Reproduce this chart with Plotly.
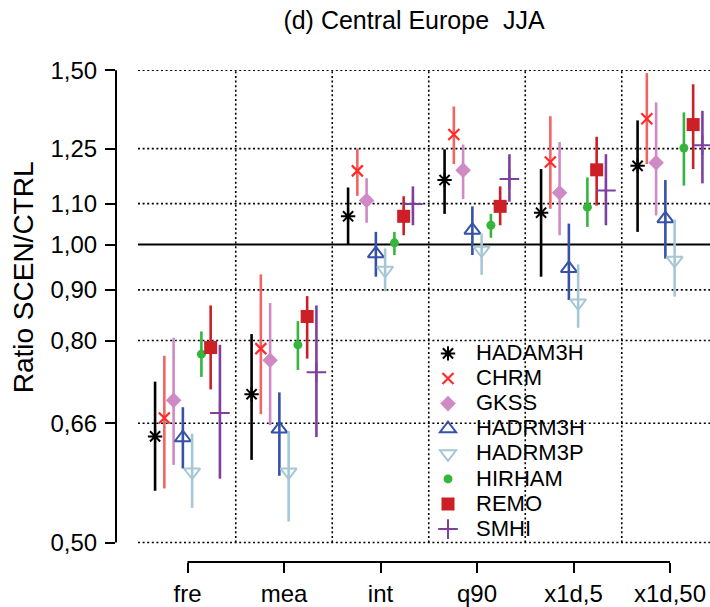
import numpy as np
import plotly.graph_objects as go

categories = ["fre", "mea", "int", "q90", "x1d,5", "x1d,50"]
models = ["HADAM3H", "CHRM", "GKSS", "HADRM3H", "HADRM3P", "HIRHAM", "REMO", "SMHI"]

# ratio SCEN/CTRL (point estimate) per model, per category
hadam3h_mid = [0.640, 0.706, 1.068, 1.162, 1.077, 1.201]
chrm_mid    = [0.668, 0.785, 1.187, 1.292, 1.212, 1.340]
gkss_mid    = [0.696, 0.764, 1.108, 1.189, 1.128, 1.210]
hadrm3h_mid = [0.638, 0.651, 0.979, 1.034, 0.946, 1.062]
hadrm3p_mid = [0.589, 0.589, 0.942, 0.987, 0.873, 0.964]
hirham_mid  = [0.775, 0.792, 1.004, 1.046, 1.091, 1.252]
remo_mid    = [0.787, 0.846, 1.068, 1.093, 1.190, 1.322]
smhi_mid    = [0.676, 0.743, 1.099, 1.165, 1.134, 1.260]

# lower bounds of the uncertainty ranges
hadam3h_lo = [0.564, 0.606, 1.001, 1.074, 0.928, 1.030]
chrm_lo    = [0.567, 0.674, 1.120, 1.206, 1.087, 1.206]
gkss_lo    = [0.599, 0.657, 1.052, 1.112, 1.022, 1.070]
hadrm3h_lo = [0.594, 0.584, 0.928, 0.976, 0.879, 0.968]
hadrm3p_lo = [0.542, 0.525, 0.897, 0.932, 0.824, 0.886]
hirham_lo  = [0.735, 0.747, 0.976, 1.016, 1.042, 1.147]
remo_lo    = [0.714, 0.767, 1.022, 1.046, 1.095, 1.192]
smhi_lo    = [0.580, 0.639, 1.046, 1.105, 1.046, 1.153]

# upper bounds of the uncertainty ranges
hadam3h_hi = [0.727, 0.812, 1.142, 1.248, 1.192, 1.335]
chrm_hi    = [0.772, 0.933, 1.250, 1.379, 1.348, 1.490]
gkss_hi    = [0.805, 0.873, 1.167, 1.262, 1.269, 1.392]
hadrm3h_hi = [0.685, 0.709, 1.030, 1.093, 1.050, 1.162]
hadrm3p_hi = [0.644, 0.648, 0.991, 1.026, 0.955, 1.060]
hirham_hi  = [0.817, 0.837, 1.030, 1.074, 1.169, 1.360]
remo_hi    = [0.868, 0.887, 1.119, 1.145, 1.285, 1.452]
smhi_hi    = [0.792, 0.868, 1.145, 1.234, 1.234, 1.365]

ytick_vals = [0.50, 0.66, 0.80, 0.90, 1.00, 1.10, 1.25, 1.50]
ytick_text = ["0,50", "0,66", "0,80", "0,90", "1,00", "1,10", "1,25", "1,50"]

mids = [hadam3h_mid, chrm_mid, gkss_mid, hadrm3h_mid, hadrm3p_mid, hirham_mid, remo_mid, smhi_mid]
los = [hadam3h_lo, chrm_lo, gkss_lo, hadrm3h_lo, hadrm3p_lo, hirham_lo, remo_lo, smhi_lo]
his = [hadam3h_hi, chrm_hi, gkss_hi, hadrm3h_hi, hadrm3p_hi, hirham_hi, remo_hi, smhi_hi]

styles = [
    dict(symbol="asterisk-open", color="#000000", bar="#000000", size=12, lw=2),
    dict(symbol="x-thin-open", color="#FF2A2A", bar="#F26464", size=11, lw=2.2),
    dict(symbol="diamond", color="#CF8AC6", bar="#CF8AC6", size=12, lw=0),
    dict(symbol="triangle-up-open", color="#3551A8", bar="#3551A8", size=14, lw=2),
    dict(symbol="triangle-down-open", color="#A6C8D6", bar="#A6C8D6", size=14, lw=2),
    dict(symbol="circle", color="#35B53C", bar="#35B53C", size=9, lw=0),
    dict(symbol="square", color="#CC1F26", bar="#CC1F26", size=13, lw=0),
    dict(symbol="cross-thin-open", color="#7E3F9E", bar="#7E3F9E", size=14, lw=2),
]

FONT = "Liberation Sans, Arial, Helvetica, sans-serif"
dodge = 0.096
ncat = len(categories)
nmod = len(models)

fig = go.Figure()
for i, name in enumerate(models):
    st = styles[i]
    mid = np.array(mids[i])
    lo = np.array(los[i])
    hi = np.array(his[i])
    xs = np.arange(ncat) + (i - (nmod - 1) / 2) * dodge
    fig.add_trace(go.Scatter(
        x=xs, y=mid, mode="markers",
        name='<span style="font-size:22px">' + name + '</span>',
        marker=dict(symbol=st["symbol"], color=st["color"], size=st["size"],
                    line=dict(color=st["color"], width=st["lw"])),
        error_y=dict(type="data", symmetric=False, array=hi - mid, arrayminus=mid - lo,
                     color=st["bar"], thickness=2.6, width=0),
    ))

L, R, T, B = 116, 0, 70, 41
W, H = 710, 607
pw = W - L - R
x_left = (138 - L) / pw

dotdash = "2px,2.6px"
shapes = []
for v in ytick_vals:
    if v == 1.0:
        continue
    shapes.append(dict(type="line", xref="paper", yref="y", x0=x_left, x1=1,
                       y0=v, y1=v, layer="below",
                       line=dict(color="black", width=1.6, dash=dotdash)))
for k in range(ncat - 1):
    shapes.append(dict(type="line", xref="x", yref="y", x0=k + 0.5, x1=k + 0.5,
                       y0=ytick_vals[0], y1=ytick_vals[-1], layer="below",
                       line=dict(color="black", width=1.6, dash=dotdash)))
# reference line at ratio 1
shapes.append(dict(type="line", xref="paper", yref="y", x0=x_left, x1=1,
                   y0=1.0, y1=1.0, layer="below", line=dict(color="black", width=2)))
# y axis line (R-style, from first to last tick)
shapes.append(dict(type="line", xref="paper", yref="y", x0=0, x1=0,
                   y0=ytick_vals[0], y1=ytick_vals[-1],
                   line=dict(color="black", width=2)))
# x axis line (R-style, from first to last tick)
shapes.append(dict(type="line", xref="x", yref="paper", x0=0, x1=ncat - 1,
                   y0=0, y1=0, line=dict(color="black", width=2)))

fig.update_layout(
    width=W, height=H,
    margin=dict(l=L, r=R, t=T, b=B, pad=0),
    paper_bgcolor="white", plot_bgcolor="white",
    font=dict(family=FONT, color="black"),
    title=dict(text="(d) Central Europe \u00a0JJA", x=414 / W, xref="container",
               xanchor="center", y=1 - 20 / H, yref="container", yanchor="middle",
               font=dict(size=25, family=FONT, color="black")),
    showlegend=True,
    legend=dict(x=(420 - L) / pw, y=(H - B - 338) / (H - T - B), xref="paper", yref="paper",
                xanchor="left", yanchor="top", bgcolor="rgba(0,0,0,0)",
                font=dict(size=17, family=FONT, color="black"),
                itemwidth=46, borderwidth=0),
    shapes=shapes,
    annotations=[dict(text="Ratio SCEN/CTRL", textangle=-90, xref="paper", yref="paper",
                      x=(23 - L) / pw, y=(H - B - 279) / (H - T - B),
                      xanchor="center", yanchor="middle", showarrow=False,
                      font=dict(size=28, family=FONT, color="black"))],
)

x0px = 187.5
step = 96.5
fig.update_xaxes(
    range=[(L - x0px) / step, (W - R - x0px) / step],
    tickmode="array", tickvals=list(range(ncat)), ticktext=categories,
    ticks="outside", ticklen=10, tickwidth=2, tickcolor="black",
    showline=False, showgrid=False, zeroline=False,
    tickfont=dict(size=24, family=FONT, color="black"),
)
pxlog = 997.8  # pixels per log10 unit
fig.update_yaxes(
    type="log",
    range=[-(H - B - 246) / pxlog, (246 - T) / pxlog],
    tickmode="array", tickvals=ytick_vals, ticktext=ytick_text,
    ticks="outside", ticklen=10, tickwidth=2, tickcolor="black",
    ticklabelstandoff=3,
    showline=False, showgrid=False, zeroline=False,
    tickfont=dict(size=24, family=FONT, color="black"),
)

fig.write_html("out.html", config={"displayModeBar": False},
               post_script="document.body.style.margin='0px';")
